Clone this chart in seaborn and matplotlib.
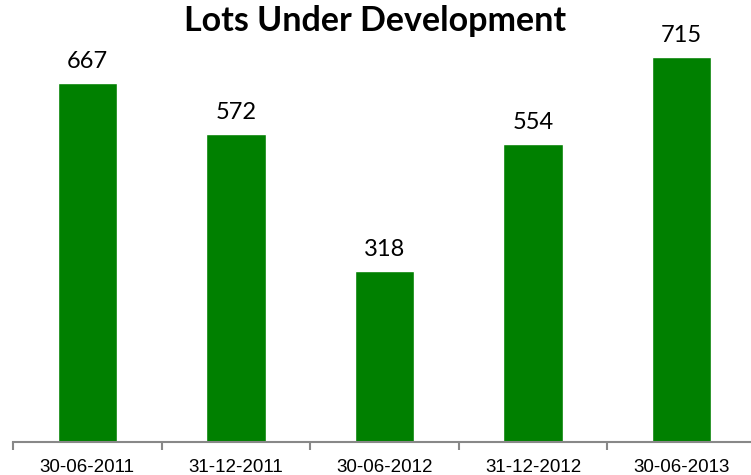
import numpy as np
import matplotlib.pyplot as plt
import seaborn as sns

# Lots under development per reporting date
dates = ["30-06-2011", "31-12-2011", "30-06-2012", "31-12-2012", "30-06-2013"]
lots = [667, 572, 318, 554, 715]

sns.set_style("white")

fig = plt.figure(figsize=(7.51, 4.75), dpi=100)
ax = fig.add_axes([13 / 751, 33 / 475, 743 / 751, 431 / 475])

sns.barplot(x=dates, y=lots, color="#008000", saturation=1, width=0.4, ax=ax)

for i, v in enumerate(lots):
    ax.text(i, v + 20, str(v), ha="center", va="bottom",
            fontsize=17, family="Lato", color="black")

ax.set_xlim(-0.5, len(dates) - 0.5)
ax.set_ylim(0, 800)
ax.set_yticks([])
for s in ["top", "right", "left"]:
    ax.spines[s].set_visible(False)
ax.spines["bottom"].set_color("#888888")
ax.spines["bottom"].set_linewidth(1.5)

# category ticks between bars
ax.set_xticks(np.arange(len(dates)) - 0.5, minor=True)
ax.tick_params(axis="x", which="minor", bottom=True, length=6, width=1.5,
               color="#888888")
ax.tick_params(axis="x", which="major", length=0, labelsize=13.5, pad=12,
               labelcolor="black")
for lbl in ax.get_xticklabels():
    lbl.set_family("Liberation Sans")

fig.text(0.5, 0.955, "Lots Under Development", ha="center", va="center",
         fontsize=24.5, fontweight="bold", family="Lato", color="black")

fig.savefig("out.png", dpi=100)
